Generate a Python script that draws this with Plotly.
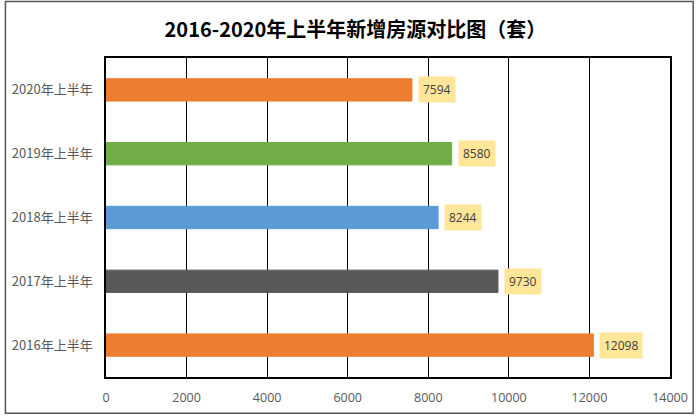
import plotly.graph_objects as go

categories = ["2016年上半年", "2017年上半年", "2018年上半年", "2019年上半年", "2020年上半年"]
values = [12098, 9730, 8244, 8580, 7594]
colors = ["#ED7D31", "#595959", "#5B9BD5", "#70AD47", "#ED7D31"]
x_ticks = [0, 2000, 4000, 6000, 8000, 10000, 12000, 14000]
title = "2016-2020年上半年新增房源对比图（套）"

fig = go.Figure()
fig.add_trace(go.Bar(
    y=categories, x=values, orientation="h",
    marker=dict(color=colors, line=dict(color=colors, width=1)),
    width=0.35, hoverinfo="x+y",
))

for c, v in zip(categories, values):
    fig.add_annotation(
        x=v, y=c, text=str(v), showarrow=False, xanchor="left", xshift=6,
        bgcolor="#FFE699", borderpad=4,
        font=dict(family="Open Sans, Noto Sans CJK SC", size=12, color="#404040"),
    )

L, R, T, B = 103, 25, 58, 38
W, H = 700, 418
pw, ph = W - L - R, H - T - B

fig.add_shape(type="rect", xref="paper", yref="paper",
              x0=-(L - 1) / pw, x1=1 + (R - 1.5) / pw, y0=-(B - 1.5) / ph, y1=1 + (T - 1) / ph,
              line=dict(color="#555555", width=1.5), layer="above")

fig.update_layout(
    width=W, height=H,
    margin=dict(l=L, r=R, t=T, b=B),
    paper_bgcolor="white", plot_bgcolor="white",
    showlegend=False,
    title=dict(text="<b>" + title + "</b>", x=(356 - L) / pw, xref="paper", xanchor="center",
               y=1 - 30 / H, yanchor="middle",
               font=dict(family="Noto Sans CJK SC", size=20, color="#000000")),
)
fig.update_xaxes(
    range=[0, 14000], tickvals=x_ticks, ticktext=[str(t) for t in x_ticks],
    showgrid=True, gridcolor="#000000", gridwidth=1.3,
    showline=True, linecolor="#000000", linewidth=1.5, mirror=True,
    zeroline=False, ticks="", ticklabelstandoff=8,
    tickfont=dict(family="Open Sans, Noto Sans CJK SC", size=12.5, color="#595959"),
)
fig.update_yaxes(
    categoryorder="array", categoryarray=categories,
    showgrid=False, showline=True, linecolor="#000000", linewidth=1.5, mirror=True,
    ticks="", ticklabelstandoff=9,
    tickfont=dict(family="Noto Sans CJK SC", size=13, color="#595959"),
)

fig.write_html("out.html", config={"displayModeBar": False},
               post_script="document.body.style.margin='0';document.body.style.overflow='hidden';")
